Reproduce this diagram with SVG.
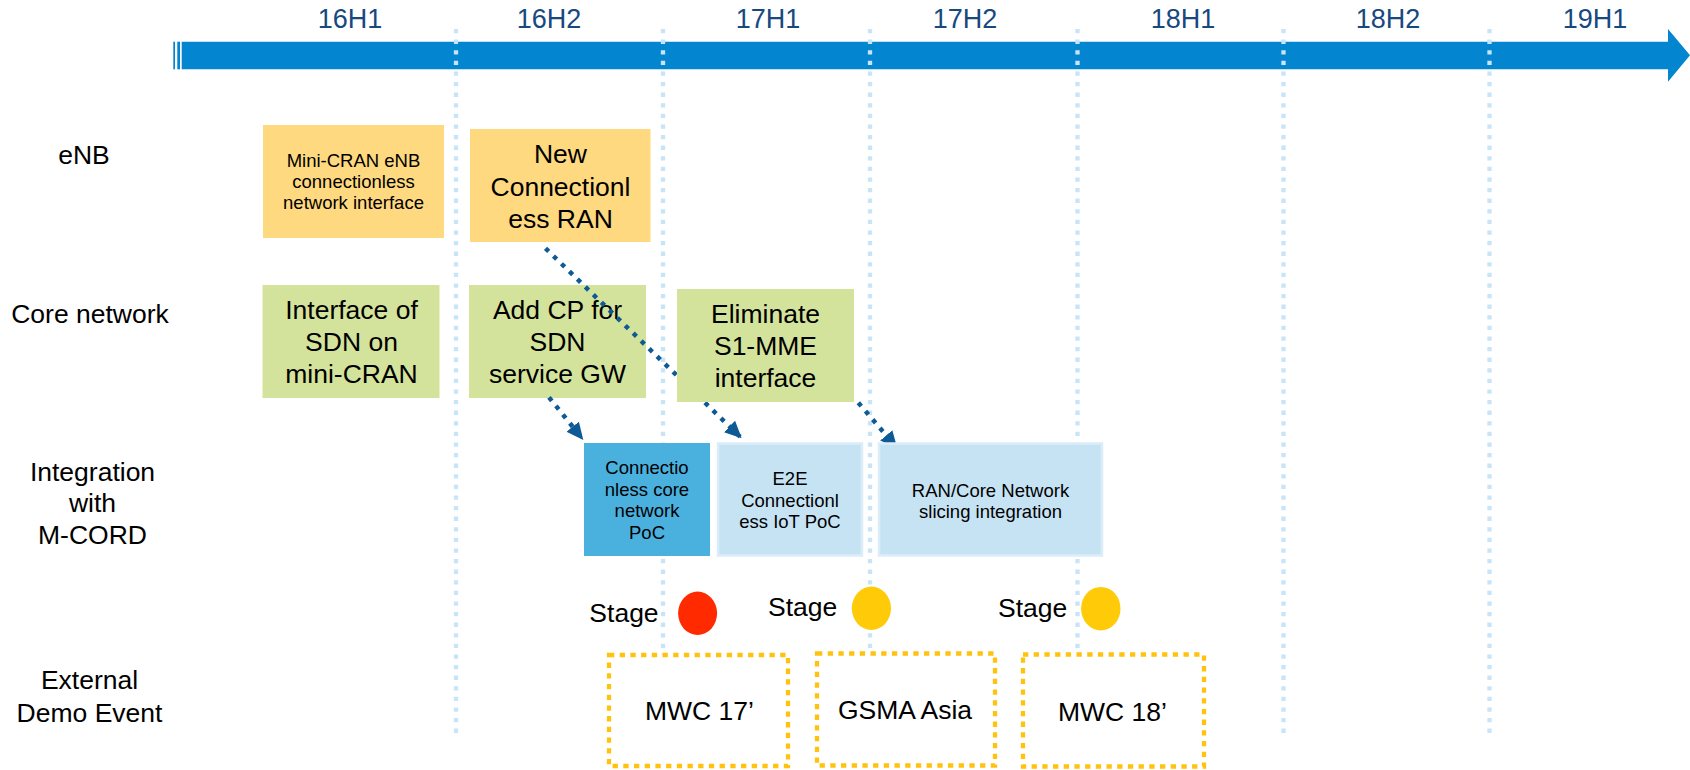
<svg xmlns="http://www.w3.org/2000/svg" width="1690" height="770" viewBox="0 0 1690 770">
<style>
.t{font-family:"Liberation Sans",Arial,sans-serif;fill:#000;text-anchor:middle}
.big{font-size:26.5px}
.sm{font-size:18.5px}
.hdr{font-family:"Liberation Sans",Arial,sans-serif;font-size:27px;fill:#17497f;text-anchor:middle}
.dv{stroke:#c8e4f9;stroke-width:4.3;stroke-dasharray:4.3 6.3;fill:none}
.cn{stroke:#0d5a97;stroke-width:4.5;stroke-dasharray:4.5 6.6;fill:none;marker-end:url(#ah)}
.ev{fill:#fff;stroke:#ffc20e;stroke-width:4.3;stroke-dasharray:5.3 5.4}
.or{fill:#ffd97f}
.gr{fill:#d4e39b}
.lb{fill:#c6e3f4;stroke:#dcedf9;stroke-width:2.5}
</style>
<defs>
<marker id="ah" viewBox="0 0 17 16" refX="17" refY="8" markerWidth="17" markerHeight="16" markerUnits="userSpaceOnUse" orient="auto">
<path d="M0,0 L17,8 L0,16 z" fill="#0d5a97"/>
</marker>
</defs>
<rect width="1690" height="770" fill="#fff"/>

<g id="timeline">
<rect x="173.3" y="41.7" width="1.7" height="27.6" fill="#0386cf"/>
<rect x="177.3" y="41.7" width="2.7" height="27.6" fill="#0386cf"/>
<polygon points="181.7,41.7 1668,41.7 1668,29 1690,55.3 1668,81.7 1668,69.3 181.7,69.3" fill="#0386cf"/>
<text class="hdr" x="350" y="28.3">16H1</text>
<text class="hdr" x="549" y="28.3">16H2</text>
<text class="hdr" x="768" y="28.3">17H1</text>
<text class="hdr" x="965" y="28.3">17H2</text>
<text class="hdr" x="1183" y="28.3">18H1</text>
<text class="hdr" x="1388" y="28.3">18H2</text>
<text class="hdr" x="1595" y="28.3">19H1</text>
</g>

<g id="dividers">
<line class="dv" x1="456" y1="29" x2="456" y2="736"/>
<line class="dv" x1="663" y1="29" x2="663" y2="736"/>
<line class="dv" x1="870" y1="29" x2="870" y2="736"/>
<line class="dv" x1="1077.5" y1="29" x2="1077.5" y2="736"/>
<line class="dv" x1="1283.5" y1="29" x2="1283.5" y2="736"/>
<line class="dv" x1="1489.5" y1="29" x2="1489.5" y2="736"/>
</g>

<g id="row-labels">
<text class="t big" x="84" y="164">eNB</text>
<text class="t big" x="90" y="323">Core network</text>
<text class="t big"><tspan x="92.5" y="480.7">Integration</tspan><tspan x="92.5" y="511.7">with</tspan><tspan x="92.5" y="544">M-CORD</tspan></text>
<text class="t big"><tspan x="89.5" y="689.3">External</tspan><tspan x="89.5" y="721.7">Demo Event</tspan></text>
</g>

<g id="mini-cran-enb">
<rect class="or" x="263" y="125" width="181" height="113"/>
<text class="t sm"><tspan x="353.5" y="167.3">Mini-CRAN eNB</tspan><tspan x="353.5" y="188">connectionless</tspan><tspan x="353.5" y="208.5">network interface</tspan></text>
</g>

<g id="new-connectionless-ran">
<rect class="or" x="470" y="129" width="180.5" height="113"/>
<text class="t big"><tspan x="560.5" y="163.3">New</tspan><tspan x="560.5" y="196">Connectionl</tspan><tspan x="560.5" y="227.5">ess RAN</tspan></text>
</g>

<g id="interface-sdn">
<rect class="gr" x="262.5" y="285" width="177" height="113"/>
<text class="t big"><tspan x="351.5" y="319.3">Interface of</tspan><tspan x="351.5" y="351">SDN on</tspan><tspan x="351.5" y="383.3">mini-CRAN</tspan></text>
</g>

<g id="add-cp">
<rect class="gr" x="469" y="285" width="177" height="113"/>
<text class="t big"><tspan x="557.5" y="319.3">Add CP for</tspan><tspan x="557.5" y="351">SDN</tspan><tspan x="557.5" y="383.3">service GW</tspan></text>
</g>

<g id="connectors">
<line class="cn" x1="545.5" y1="248.3" x2="741.7" y2="438.3"/>
<line class="cn" x1="549" y1="397.3" x2="583.3" y2="440"/>
<line class="cn" x1="858.3" y1="402.7" x2="897.3" y2="448.3"/>
</g>

<g id="eliminate-s1mme">
<rect class="gr" x="677" y="289" width="177" height="113"/>
<text class="t big"><tspan x="765.5" y="323.3">Eliminate</tspan><tspan x="765.5" y="355">S1-MME</tspan><tspan x="765.5" y="386.7">interface</tspan></text>
</g>

<g id="connectionless-core-poc">
<rect x="584" y="443" width="126" height="113" fill="#4ab1df"/>
<text class="t sm"><tspan x="647" y="474">Connectio</tspan><tspan x="647" y="495.5">nless core</tspan><tspan x="647" y="517">network</tspan><tspan x="647" y="539">PoC</tspan></text>
</g>

<g id="e2e-iot-poc">
<rect class="lb" x="718" y="443.5" width="144" height="112"/>
<text class="t sm"><tspan x="790" y="485">E2E</tspan><tspan x="790" y="506.5">Connectionl</tspan><tspan x="790" y="528">ess IoT PoC</tspan></text>
</g>

<g id="ran-core-slicing">
<rect class="lb" x="879" y="443.5" width="223" height="112"/>
<text class="t sm"><tspan x="990.5" y="496.5">RAN/Core Network</tspan><tspan x="990.5" y="517.5">slicing integration</tspan></text>
</g>

<g id="stage-1">
<text class="t big" x="624" y="621.5">Stage</text>
<ellipse cx="697.6" cy="613.3" rx="19.5" ry="21.7" fill="#ff2a00"/>
</g>
<g id="stage-2">
<text class="t big" x="802.6" y="616">Stage</text>
<ellipse cx="871.4" cy="608.3" rx="19.6" ry="21.7" fill="#ffca08"/>
</g>
<g id="stage-3">
<text class="t big" x="1032.7" y="617.3">Stage</text>
<ellipse cx="1100.8" cy="608.7" rx="19.7" ry="21.8" fill="#ffca08"/>
</g>

<g id="mwc17">
<rect class="ev" x="609" y="655" width="179" height="111"/>
<text class="t big" x="699.5" y="720">MWC 17’</text>
</g>
<g id="gsma-asia">
<rect class="ev" x="817" y="653.5" width="178" height="112"/>
<text class="t big" x="905" y="719.3">GSMA Asia</text>
</g>
<g id="mwc18">
<rect class="ev" x="1023" y="654.5" width="181" height="112"/>
<text class="t big" x="1112.5" y="720.7">MWC 18’</text>
</g>
</svg>
